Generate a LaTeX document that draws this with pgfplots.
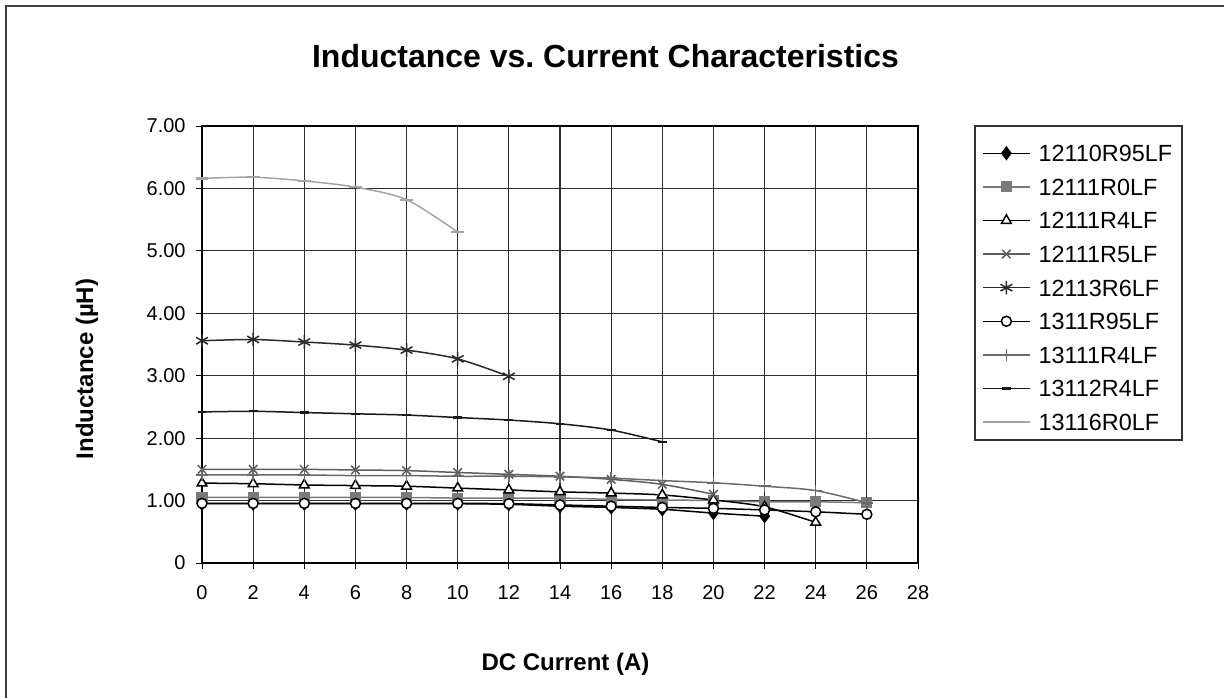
\documentclass[border=0pt]{standalone}
\usepackage{fontspec}
\setmainfont{Liberation Sans}
\usepackage{pgfplots}
\pgfplotsset{compat=1.18}

% series colours
\definecolor{cgray}{HTML}{7A7A7A}
\definecolor{cxgray}{HTML}{5E5E5E}
\definecolor{cdark}{HTML}{2A2A2A}
\definecolor{cplus}{HTML}{6A6A6A}
\definecolor{clight}{HTML}{A4A4A4}
\definecolor{cgrid}{HTML}{2E2E2E}

\begin{document}
\begin{tikzpicture}
\useasboundingbox (0,0) rectangle (612pt,348.5pt);
% chart area border (right and bottom edges fall outside the picture)
\draw[line width=0.6pt, black!75] (3pt,-2pt) -- (3pt,345.5pt) -- (615pt,345.5pt);

\begin{axis}[
    at={(101pt,67pt)}, anchor=south west,
    scale only axis, width=358pt, height=218.5pt,
    xmin=0, xmax=28, ymin=0, ymax=7,
    xtick={0,2,...,28},
    xticklabels={0,2,4,6,8,10,12,14,16,18,20,22,24,26,28},
    ytick={0,1,...,7},
    yticklabels={0,1.00,2.00,3.00,4.00,5.00,6.00,7.00},
    tick align=outside, major tick length=3pt,
    xtick pos=bottom, ytick pos=left,
    tick style={black, line width=0.5pt},
    grid=major,
    major grid style={cgrid, line width=0.55pt},
    axis line style={black, line width=0.6pt},
    ticklabel style={font=\fontsize{10}{12}\selectfont},
    xticklabel style={inner sep=0pt, anchor=north, yshift=-8pt},
    yticklabel style={inner sep=0pt, anchor=east, xshift=-5pt},
    every axis plot/.append style={smooth, line width=0.75pt},
    legend cell align=left,
    legend image code/.code={\draw[mark repeat=2,mark phase=2] plot coordinates {(0pt,0pt)(11.75pt,0pt)(23.5pt,0pt)};},
    legend style={draw=none, fill=none, at={(1.089,0.977)}, anchor=north west,
        inner sep=0pt, row sep=0pt, column sep=4pt,
        nodes={inner sep=0pt, text height=12.6pt, text depth=4.2pt,
               font=\fontsize{11.7}{14}\selectfont}},
]
% 12110R95LF
\addplot[black, mark=diamond*, mark size=3pt, mark options={fill=black}] coordinates {
    (0,0.95) (2,0.95) (4,0.95) (6,0.95) (8,0.95) (10,0.95)
    (12,0.94) (14,0.91) (16,0.89) (18,0.86) (20,0.80) (22,0.75)
};
% 12111R0LF
\addplot[cgray, mark=square*, mark size=2.4pt, mark options={fill=cgray}] coordinates {
    (0,1.05) (2,1.05) (4,1.05) (6,1.05) (8,1.05) (10,1.04) (12,1.04)
    (14,1.04) (16,1.02) (18,1.01) (20,1.00) (22,0.98) (24,0.98) (26,0.965)
};
% 12111R4LF
\addplot[black, mark=triangle*, mark size=2.8pt, mark options={fill=white}] coordinates {
    (0,1.28) (2,1.27) (4,1.25) (6,1.24) (8,1.23) (10,1.20) (12,1.17)
    (14,1.14) (16,1.12) (18,1.09) (20,1.01) (22,0.90) (24,0.65)
};
% 12111R5LF
\addplot[cxgray, mark=x, mark size=3pt] coordinates {
    (0,1.50) (2,1.50) (4,1.50) (6,1.49) (8,1.48) (10,1.45)
    (12,1.42) (14,1.39) (16,1.34) (18,1.26) (20,1.10)
};
% 12113R6LF
\addplot[cdark, mark=asterisk, mark size=3.4pt] coordinates {
    (0,3.56) (2,3.58) (4,3.54) (6,3.49) (8,3.41) (10,3.27) (12,2.99)
};
% 1311R95LF
\addplot[black, mark=*, mark size=2.5pt, mark options={fill=white}] coordinates {
    (0,0.955) (2,0.955) (4,0.955) (6,0.955) (8,0.955) (10,0.955) (12,0.95)
    (14,0.93) (16,0.91) (18,0.89) (20,0.875) (22,0.85) (24,0.82) (26,0.78)
};
% 13111R4LF
\addplot[cplus, mark=+, mark size=3pt] coordinates {
    (0,1.41) (2,1.41) (4,1.41) (6,1.40) (8,1.40) (10,1.39) (12,1.39)
    (14,1.38) (16,1.36) (18,1.32) (20,1.285) (22,1.23) (24,1.16) (26,0.965)
};
% 13112R4LF
\addplot[black!90, mark=-, mark size=2.2pt, mark options={line width=1.1pt}] coordinates {
    (0,2.42) (2,2.43) (4,2.41) (6,2.39) (8,2.37) (10,2.33) (12,2.29)
    (14,2.23) (16,2.13) (18,1.94)
};
% 13116R0LF
\addplot[clight, mark=-, mark size=3.2pt, mark options={line width=1.1pt}] coordinates {
    (0,6.16) (2,6.18) (4,6.12) (6,6.02) (8,5.82) (10,5.30)
};
\legend{12110R95LF, 12111R0LF, 12111R4LF, 12111R5LF, 12113R6LF,
        1311R95LF, 13111R4LF, 13112R4LF, 13116R0LF}
\end{axis}

% legend frame
\draw[line width=0.6pt, black!80] (487.5pt,128.5pt) rectangle (591pt,285.5pt);

% title and axis titles
\node[anchor=base] at (302.75pt,314.5pt)
    {\fontsize{16}{19}\selectfont\bfseries Inductance vs.\ Current Characteristics};
\node[anchor=base] at (282.75pt,13.5pt)
    {\fontsize{12}{14}\selectfont\bfseries DC Current (A)};
\node[anchor=base, rotate=90] at (46.5pt,164pt)
    {\fontsize{12}{14}\selectfont\bfseries Inductance (µH)};
\end{tikzpicture}
\end{document}
